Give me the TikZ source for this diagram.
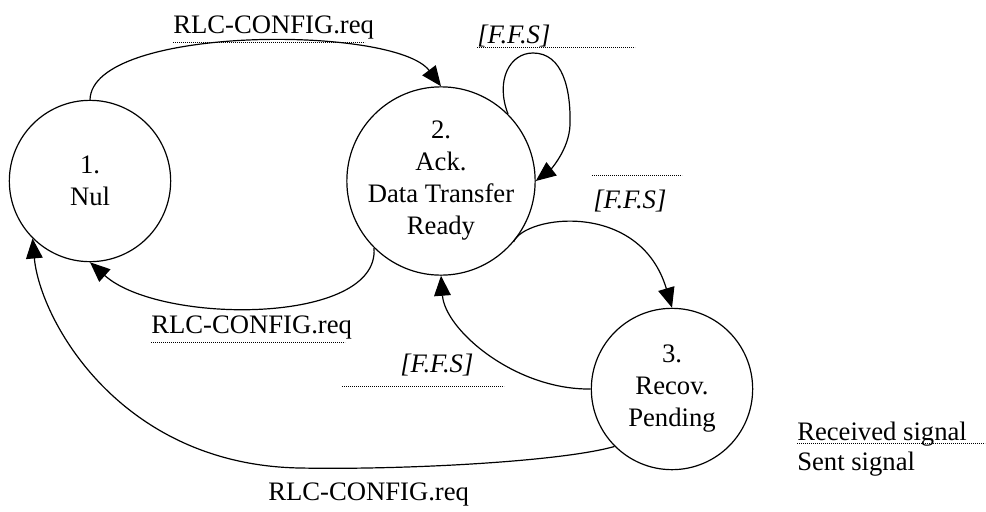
\documentclass[tikz,border=0pt]{standalone}
\usepackage{fontspec}
\setmainfont{Liberation Serif}
\usetikzlibrary{arrows.meta}
\begin{document}
\begin{tikzpicture}[x=0.75pt,y=-0.75pt,
  every node/.style={inner sep=0pt},
  state/.style={circle,draw,line width=0.9pt,minimum size=121pt,align=center,font=\fontsize{20}{24}\selectfont},
  lab/.style={anchor=base west,font=\fontsize{20}{24}\selectfont},
  ilab/.style={anchor=base west,font=\fontsize{20}{24}\selectfont\itshape},
  trans/.style={line width=0.9pt,-{Triangle[length=15pt,width=12.5pt]}},
  recv/.style={line width=0.5pt,dash pattern=on 0.6pt off 0.9pt}]
\useasboundingbox (0,0) rectangle (986,511);
% states
\node[state] (n1) at (90,181) {1.\\Nul};
\node[state] (n2) at (441,181) {2.\\Ack.\\Data Transfer\\Ready};
\node[state] (n3) at (672,389) {3.\\Recov.\\Pending};
% transitions
\draw[trans] (n1.north) .. controls (92,25) and (395,25) .. (n2.north);
\draw[trans] (n2.45) .. controls (495,80) and (510,53) .. (533,53) .. controls (563,53) and (571,90) .. (570,125) .. controls (569,150) and (550,170) .. (n2.east);
\draw[trans] (n2.-40) .. controls (525,215) and (640,200) .. (n3.north);
\draw[trans] (n2.-135) .. controls (380,325) and (160,325) .. (n1.south);
\draw[trans] (n3.west) .. controls (515,390) and (445,330) .. (n2.south);
\draw[trans] (n3.-135) .. controls (560,462) and (400,470) .. (300,468) .. controls (120,465) and (40,320) .. (n1.-135);
% labels
\node[lab] (l1) at (173,33) {RLC-CONFIG.req};
\draw[recv] (173,42) -- (365,42);
\node[ilab] (l2) at (477,43) {[F.F.S]};
\draw[recv] (477,47) -- (635,47);
\node[ilab] (l3) at (593,208) {[F.F.S]};
\draw[recv] (592,175) -- (682,175);
\node[lab] (l4) at (151,333) {RLC-CONFIG.req};
\draw[recv] (151,342) -- (345,342);
\node[ilab] (l5) at (400,372) {[F.F.S]};
\draw[recv] (342,386) -- (504,386);
\node[lab] (l6) at (268,500) {RLC-CONFIG.req};
% legend
\node[lab] (r1) at (797,440) {Received signal};
\draw[recv] (797,443) -- (985,443);
\node[lab] (s1) at (797,470) {Sent signal};
\end{tikzpicture}
\end{document}
